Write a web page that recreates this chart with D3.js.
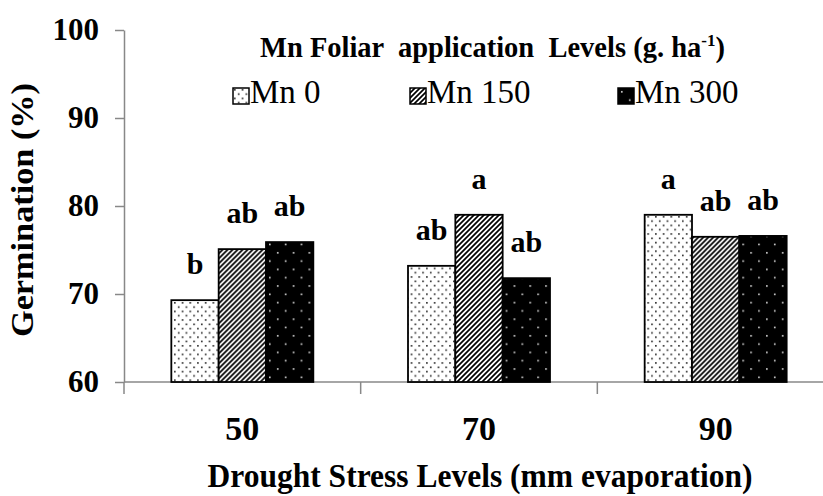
<!DOCTYPE html>
<html>
<head>
<meta charset="utf-8">
<script src="https://cdn.jsdelivr.net/npm/d3@7"></script>
<style>
  body { margin: 0; background: #fff; }
  svg { display: block; }
  text { font-family: "Liberation Serif", "Times New Roman", serif; fill: #000; }
</style>
</head>
<body>
<svg id="chart" width="823" height="496"></svg>
<script>
// drought stress levels (mm evaporation)
const categories = ["50", "70", "90"];
const seriesNames = ["Mn 0", "Mn 150", "Mn 300"];
// germination (%) per Mn level
const mn0 = [69.3, 73.2, 79.0];
const mn150 = [75.1, 79.0, 76.5];
const mn300 = [75.9, 71.8, 76.6];
// significance letters, per series
const letters0 = ["b", "ab", "a"];
const letters150 = ["ab", "a", "ab"];
const letters300 = ["ab", "ab", "ab"];
const yTicks = [60, 70, 80, 90, 100];

const series = [
    { name: seriesNames[0], values: mn0, letters: letters0, fill: "url(#dots)" },
    { name: seriesNames[1], values: mn150, letters: letters150, fill: "url(#stripes)" },
    { name: seriesNames[2], values: mn300, letters: letters300, fill: "url(#blackdots)" }
];

const svg = d3.select("#chart");

// patterns
const defs = svg.append("defs");
const p1 = defs.append("pattern").attr("id", "dots")
    .attr("patternUnits", "userSpaceOnUse").attr("width", 7.7).attr("height", 8.6);
p1.append("rect").attr("width", 7.7).attr("height", 8.6).attr("fill", "#fff");
p1.append("rect").attr("x", 1).attr("y", 1).attr("width", 1.6).attr("height", 1.6).attr("fill", "#222");
p1.append("rect").attr("x", 4.85).attr("y", 5.3).attr("width", 1.6).attr("height", 1.6).attr("fill", "#222");

const p2 = defs.append("pattern").attr("id", "stripes")
    .attr("patternUnits", "userSpaceOnUse").attr("width", 5).attr("height", 5);
p2.append("rect").attr("width", 5).attr("height", 5).attr("fill", "#fff");
p2.append("path").attr("d", "M-1,6 L6,-1 M-3,3 L3,-3 M2,8 L8,2")
    .attr("stroke", "#000").attr("stroke-width", 1.7);

const p3 = defs.append("pattern").attr("id", "blackdots")
    .attr("patternUnits", "userSpaceOnUse").attr("width", 15.8).attr("height", 16.6);
p3.append("rect").attr("width", 15.8).attr("height", 16.6).attr("fill", "#000");
p3.append("rect").attr("x", 3).attr("y", 3).attr("width", 1.6).attr("height", 1.6).attr("fill", "#ddd");
p3.append("rect").attr("x", 10.9).attr("y", 11.3).attr("width", 1.6).attr("height", 1.6).attr("fill", "#ddd");

// scales
const x = d3.scaleBand().domain(categories).range([124, 834]).padding(0);
const xs = d3.scaleBand().domain(seriesNames).range([-71, 71]).padding(0);
const y = d3.scaleLinear().domain([60, 100]).range([382, 30]);

// y axis
const yAxis = svg.append("g").attr("transform", "translate(124,0)")
    .call(d3.axisLeft(y).tickValues(yTicks).tickSize(9).tickSizeOuter(0).tickPadding(16));
yAxis.select(".domain").attr("stroke", "#888").attr("stroke-width", 1.5);
yAxis.selectAll(".tick line").attr("stroke", "#888").attr("stroke-width", 1.5);
yAxis.selectAll(".tick text")
    .style("font-family", "'Liberation Serif', serif")
    .style("font-size", "31px").style("font-weight", "bold").attr("fill", "#000");

// x axis: gray line, ticks at category boundaries
const xAxis = svg.append("g").attr("transform", "translate(0,382)");
xAxis.append("line").attr("x1", 124).attr("x2", 823).attr("stroke", "#888").attr("stroke-width", 1.5);
const bounds = categories.map(c => x(c)).concat([x.range()[1]]);
xAxis.selectAll(".bt").data(bounds).join("line")
    .attr("x1", d => d).attr("x2", d => d).attr("y1", 0).attr("y2", 12)
    .attr("stroke", "#888").attr("stroke-width", 1.5);
xAxis.selectAll(".xl").data(categories).join("text")
    .attr("x", d => x(d) + x.bandwidth() / 2).attr("y", 58)
    .attr("text-anchor", "middle")
    .style("font-size", "34px").style("font-weight", "bold")
    .text(d => d);

// bars
const groups = svg.selectAll(".grp").data(categories).join("g")
    .attr("transform", d => `translate(${x(d) + x.bandwidth() / 2},0)`);

series.forEach(s => {
    groups.append("rect")
        .attr("x", (d, i) => xs(s.name))
        .attr("y", (d, i) => y(s.values[i]))
        .attr("width", xs.bandwidth())
        .attr("height", (d, i) => y(60) - y(s.values[i]))
        .attr("fill", s.fill)
        .attr("stroke", "#000").attr("stroke-width", 1.8);
    groups.append("text")
        .attr("x", xs(s.name) + xs.bandwidth() / 2)
        .attr("y", (d, i) => y(s.values[i]) - 26)
        .attr("text-anchor", "middle")
        .style("font-size", "30px").style("font-weight", "bold")
        .text((d, i) => s.letters[i]);
});

// axis titles
svg.append("text")
    .attr("transform", "rotate(-90)")
    .attr("x", -210).attr("y", 33)
    .attr("text-anchor", "middle")
    .attr("textLength", 254).attr("lengthAdjust", "spacingAndGlyphs")
    .style("font-size", "32px").style("font-weight", "bold")
    .text("Germination (%)");

svg.append("text")
    .attr("x", 480).attr("y", 487)
    .attr("text-anchor", "middle")
    .attr("textLength", 545).attr("lengthAdjust", "spacingAndGlyphs")
    .style("font-size", "34px").style("font-weight", "bold")
    .text("Drought Stress Levels (mm evaporation)");

// legend
const lt = svg.append("text")
    .attr("x", 260).attr("y", 57)
    .style("font-size", "28.5px").style("font-weight", "bold")
    .style("white-space", "pre");
lt.append("tspan").text("Mn Foliar  application  Levels (g. ha");
lt.append("tspan").attr("dy", -11).style("font-size", "17px").text("-1");
lt.append("tspan").attr("dy", 11).text(")");

const legendX = [233, 410, 618];
const leg = svg.selectAll(".leg").data(series).join("g")
    .attr("transform", (d, i) => `translate(${legendX[i]},88)`);
leg.append("rect").attr("width", 16).attr("height", 16)
    .attr("fill", d => d.fill).attr("stroke", "#000").attr("stroke-width", 1.5);
leg.append("text").attr("x", 17).attr("y", 15)
    .style("font-size", "33px")
    .text(d => d.name);
</script>
</body>
</html>
